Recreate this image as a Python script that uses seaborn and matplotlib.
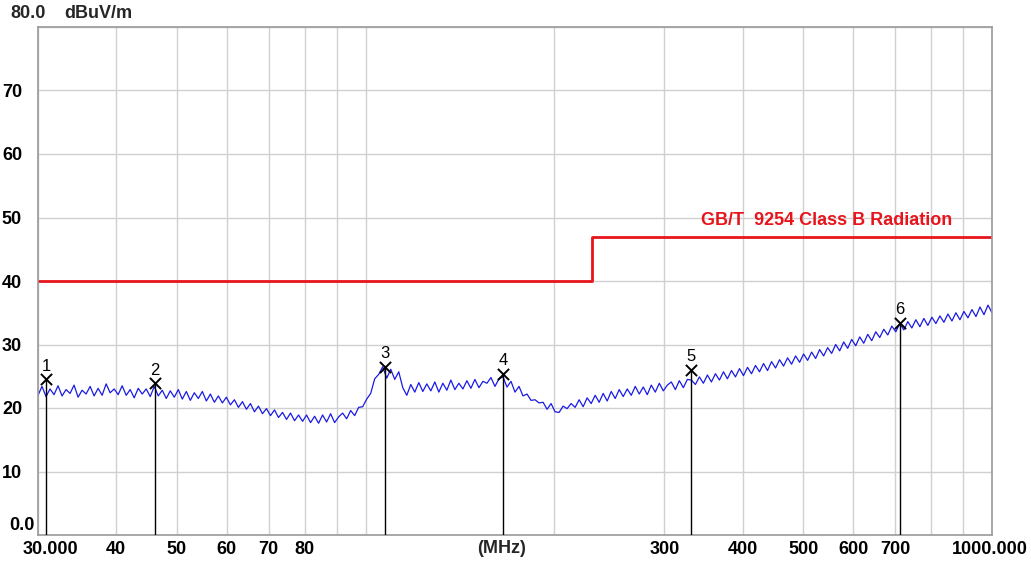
import numpy as np
import pandas as pd
import matplotlib
matplotlib.use("Agg")
import matplotlib.pyplot as plt
import matplotlib.transforms as mtransforms
import seaborn as sns

# Measured field strength (dBuV/m), sweep from 30 MHz to 1000 MHz
trace_db = [
    22.0, 23.4, 21.8, 23.0, 22.1, 23.5, 21.9, 22.9, 22.3, 23.6, 21.7, 22.8, 22.2, 23.4, 21.9, 23.1, 22.0, 23.8, 22.4, 23.0,
    22.1, 23.5, 22.0, 22.9, 21.6, 23.1, 22.2, 23.0, 21.8, 23.4, 21.9, 22.8, 21.5, 22.7, 21.7,
    22.9, 21.4, 22.6, 21.2, 22.4, 21.5, 22.6, 21.1, 22.2, 20.9, 21.9, 20.8,
    21.7, 20.5, 21.3, 20.1, 21.0, 19.8, 20.7, 19.4, 20.3, 19.1, 19.9, 18.8, 19.7, 18.5, 19.3, 18.2, 19.2, 18.0, 18.9, 17.9,
    18.9, 17.7, 18.7, 17.6, 18.9, 17.8, 19.1, 17.7, 18.6, 19.2, 18.3, 19.6, 18.8, 20.1, 20.2,
    21.4, 22.3, 24.6, 25.3, 26.5, 24.7, 26.1, 24.5, 25.7,
    23.2, 22.0, 23.7, 22.5, 24.0, 22.6, 23.8, 22.7, 24.1, 22.5, 23.9, 22.8, 24.4, 22.9, 23.9, 23.0, 24.3, 23.1, 24.5, 23.2,
    24.2, 23.9, 24.8, 23.4, 24.6, 24.9,
    23.3, 24.2, 22.5, 23.4, 21.9, 22.2, 21.2, 21.3, 20.8, 20.9, 19.8, 20.7, 19.4, 19.3,
    20.3, 19.9, 20.7, 20.1, 21.3, 20.2, 21.6, 20.7, 22.0, 20.9, 22.3, 21.1, 22.6, 21.5, 22.9, 21.8, 23.0, 22.0, 23.4, 22.2,
    23.3, 22.1, 23.6, 22.5, 23.9, 22.7, 23.6, 24.1, 22.9, 24.3, 23.2, 24.5, 24.4,
    23.7, 24.9, 23.9, 25.2, 24.1, 25.4, 24.4, 25.7, 24.6, 25.9, 24.9, 26.2, 25.1, 26.4, 25.4, 26.7, 25.7, 27.0, 25.9, 27.3,
    26.3, 27.6, 26.6, 27.9, 26.9, 28.2, 27.2, 28.5, 27.5, 28.8, 27.8, 29.2, 28.2, 29.5, 28.6, 30.0, 29.0, 30.4, 29.4, 30.8,
    29.8, 31.2, 30.2, 31.6, 30.6, 32.0, 31.1, 32.4, 31.5, 32.9, 32.0, 33.3,
    32.3, 33.6, 32.6, 33.9, 32.8, 34.1, 33.0, 34.3, 33.3, 34.5, 33.5, 34.8, 33.7, 35.0, 33.9, 35.2, 34.2, 35.5, 34.4, 35.9,
    34.7, 36.2, 35.0,
]
trace_freq = np.geomspace(30, 1000, len(trace_db))

# Limit line: GB/T 9254 Class B
limit_freq = [30, 230, 1000]
limit_db = [40, 47, 47]
limit_label = "GB/T  9254 Class B Radiation"

# Peak markers
marker_ids = ["1", "2", "3", "4", "5", "6"]
marker_freq = [30.9, 46.1, 107.5, 165.9, 331.0, 712.0]
marker_db = [24.5, 23.9, 26.5, 25.4, 26.0, 33.4]

# Axis ticks
x_major = [30, 40, 50, 60, 70, 80, 300, 400, 500, 600, 700, 1000]
x_major_labels = ["30.000", "40", "50", "60", "70", "80", "300", "400", "500", "600", "700", "1000.000"]
x_minor = [90, 100, 200, 800, 900]
y_ticks = [0, 10, 20, 30, 40, 50, 60, 70, 80]
y_labels = ["0.0", "10", "20", "30", "40", "50", "60", "70", ""]

sns.set_theme(style="white")
plt.rcParams["font.family"] = ["Liberation Sans", "DejaVu Sans"]
FS = 13

fig = plt.figure(figsize=(10.31, 5.63), dpi=100)
ax = fig.add_axes([38 / 1031, 28 / 563, 954 / 1031, 508 / 563])

trace_df = pd.DataFrame({"freq": trace_freq, "level": trace_db})
limit_df = pd.DataFrame({"freq": limit_freq, "level": limit_db})
mark_df = pd.DataFrame({"freq": marker_freq, "level": marker_db})

ax.set_xscale("log")
ax.set_xlim(30, 1000)
ax.set_ylim(0, 80)

ax.set_xticks(x_major)
ax.set_xticklabels(x_major_labels)
ax.set_xticks(x_minor, minor=True)
ax.set_xticklabels([""] * len(x_minor), minor=True)
ax.set_yticks(y_ticks)
ax.set_yticklabels(y_labels)

ax.grid(True, which="both", axis="x", color="#d0d0d0", linewidth=1.0)
ax.grid(True, which="major", axis="y", color="#d0d0d0", linewidth=1.0)
ax.set_axisbelow(True)
ax.tick_params(axis="x", which="both", length=0, labelsize=FS, colors="black", pad=4)
ax.tick_params(axis="y", which="both", length=0, labelsize=FS, colors="black", pad=11.5)
for lab in ax.get_xticklabels() + ax.get_yticklabels():
    lab.set_fontweight("bold")
for sp in ax.spines.values():
    sp.set_color("#9a9a9a")
    sp.set_linewidth(1.2)

# nudge the end tick labels like the instrument software does
xl = ax.get_xticklabels()
xl[0].set_transform(xl[0].get_transform() + mtransforms.ScaledTranslation(0.12, 0, fig.dpi_scale_trans))
xl[-1].set_transform(xl[-1].get_transform() + mtransforms.ScaledTranslation(-0.02, 0, fig.dpi_scale_trans))
yl = ax.get_yticklabels()
yl[0].set_transform(yl[0].get_transform() + mtransforms.ScaledTranslation(0.13, 0.12, fig.dpi_scale_trans))

sns.lineplot(data=limit_df, x="freq", y="level", ax=ax, color="#e8141c",
             linewidth=2.0, drawstyle="steps-post", estimator=None, legend=False)
sns.lineplot(data=trace_df, x="freq", y="level", ax=ax, color="#1a1ae6",
             linewidth=0.9, estimator=None, sort=False, legend=False)

ax.vlines(marker_freq, 0, marker_db, colors="black", linewidth=1.0, zorder=4)
sns.scatterplot(data=mark_df, x="freq", y="level", ax=ax, marker="x", s=65,
                color="black", linewidth=1.4, zorder=5, legend=False)
for mid, f, v in zip(marker_ids, marker_freq, marker_db):
    ax.annotate(mid, (f, v), xytext=(0, 4), textcoords="offset points",
                ha="center", va="bottom", fontsize=12, color="black")

ax.text(0.958, 0.62, limit_label, transform=ax.transAxes, ha="right", va="center",
        color="#e8141c", fontsize=FS, fontweight="bold")

ax.set_xlabel("")
ax.set_ylabel("")
fig.text(10 / 1031, 1 - 13 / 563, "80.0", ha="left", va="center", fontsize=FS, fontweight="bold")
fig.text(64 / 1031, 1 - 13 / 563, "dBuV/m", ha="left", va="center", fontsize=FS, fontweight="bold")
ax.text(165, -0.01, "(MHz)", transform=ax.get_xaxis_transform(), ha="center", va="top",
        fontsize=FS, fontweight="bold")

fig.savefig("out.png", dpi=100, facecolor="white")
